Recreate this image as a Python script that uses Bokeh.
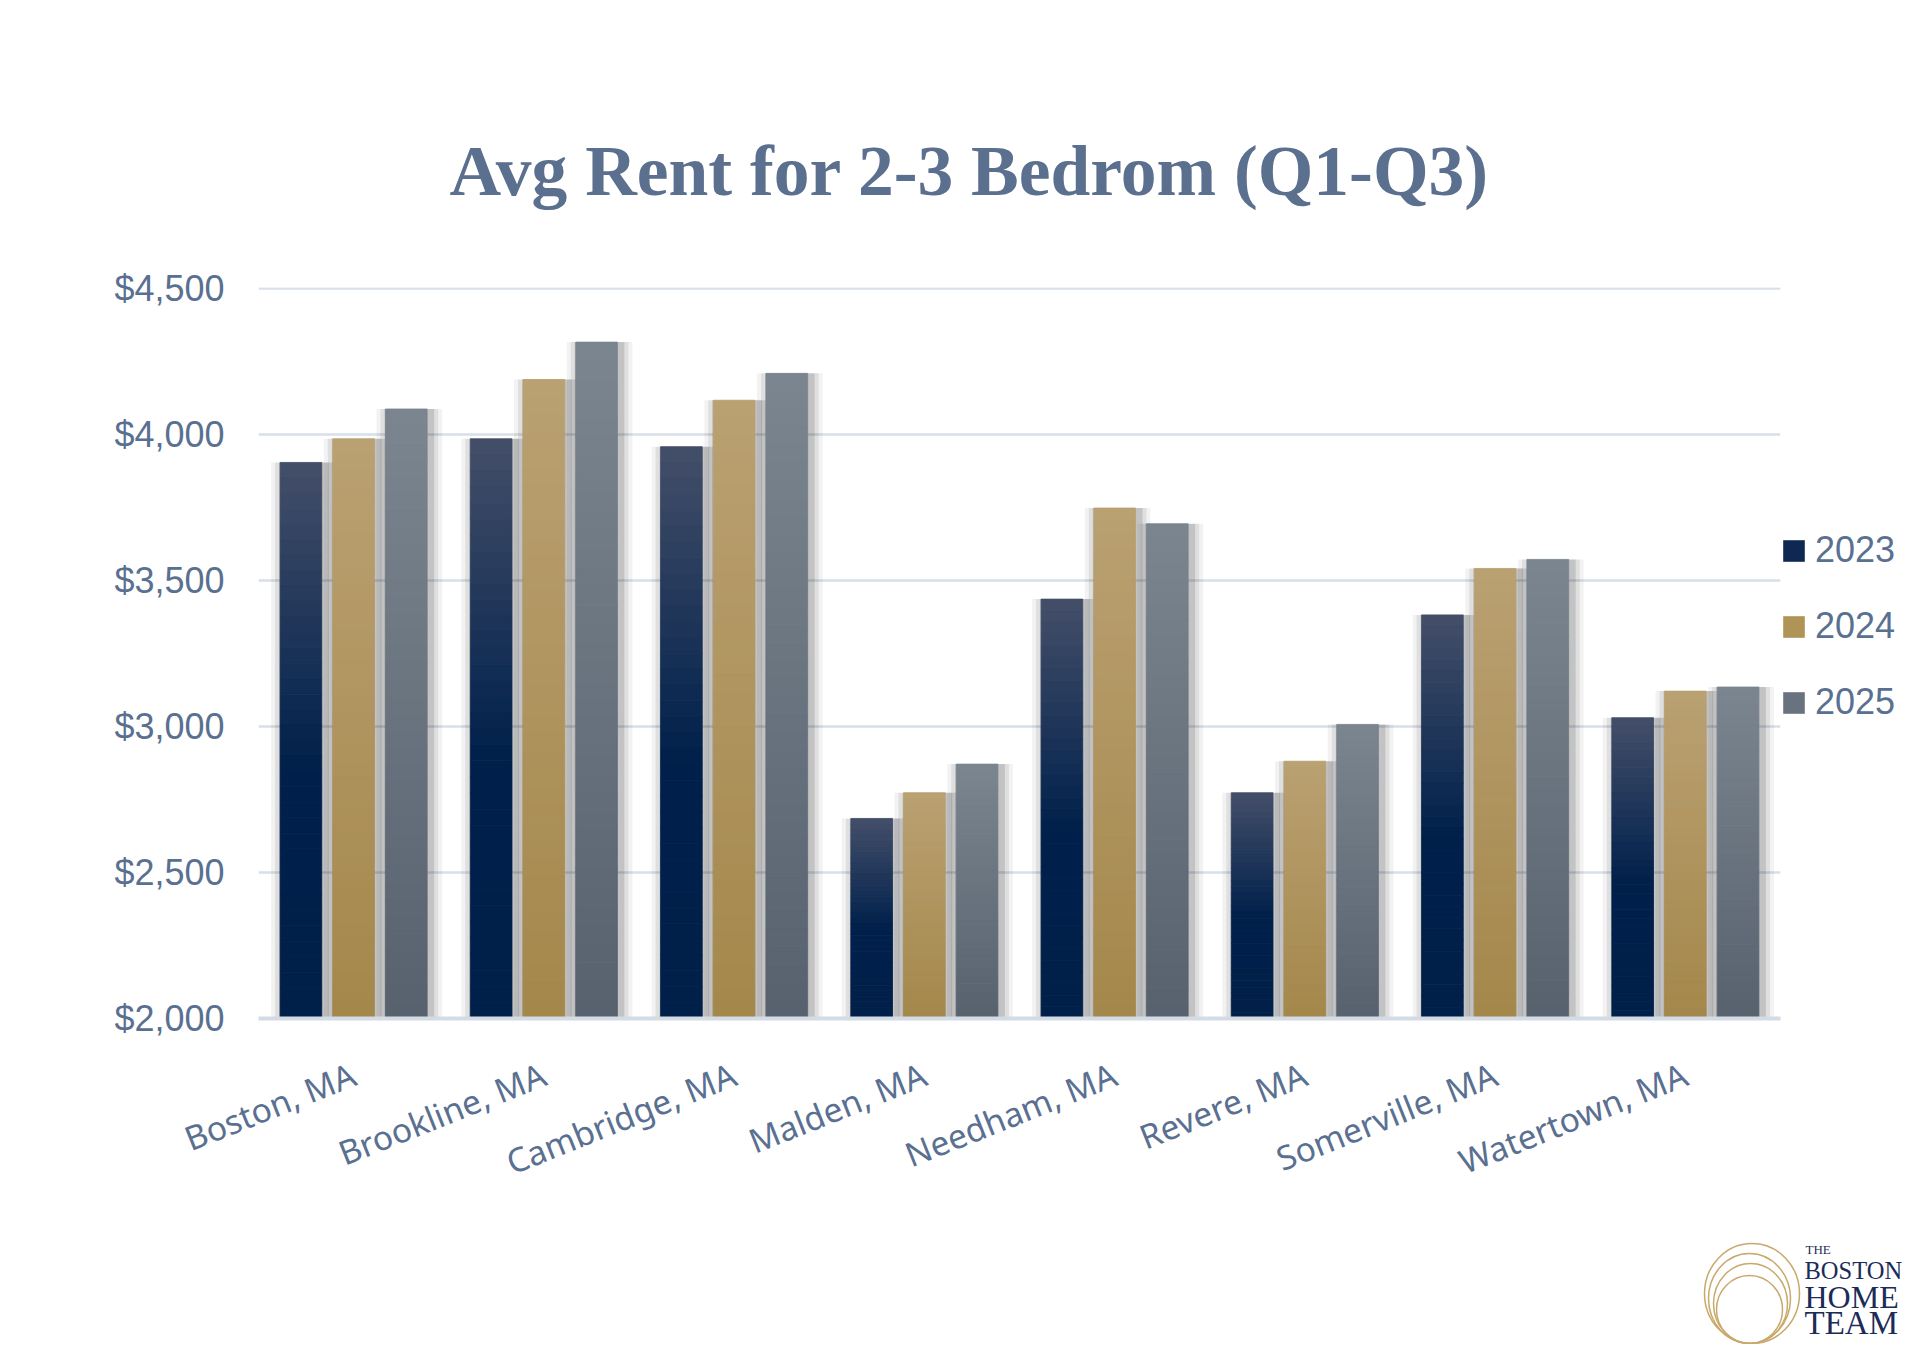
from bokeh.plotting import figure
from bokeh.models import (ColumnDataSource, FactorRange, Range1d, NumeralTickFormatter,
                          Legend, LegendItem, FixedTicker, Spacer)
from bokeh.layouts import column, row
from bokeh.core.properties import value
from bokeh.transform import dodge
from bokeh.embed import file_html
from bokeh.resources import INLINE

# ---------------- data ----------------
cities = ["Boston, MA", "Brookline, MA", "Cambridge, MA", "Malden, MA",
          "Needham, MA", "Revere, MA", "Somerville, MA", "Watertown, MA"]
years = ["2023", "2024", "2025"]
rent_2023 = [3904, 3985, 3958, 2685, 3436, 2773, 3382, 3030]
rent_2024 = [3985, 4188, 4117, 2773, 3748, 2881, 3541, 3121]
rent_2025 = [4087, 4316, 4209, 2871, 3694, 3007, 3572, 3135]
y_ticks = [2000, 2500, 3000, 3500, 4000, 4500]
title_text = "Avg Rent for 2-3 Bedrom (Q1-Q3)"
logo_words = ["THE", "BOSTON", "HOME", "TEAM"]

# ---------------- style ----------------
BASE = 2000
TXT = "#5a7091"
GRID = "#d9dfe8"
AXIS = "#d3dbe5"
W, H = 1904, 1220
FL, FR, FT, FB = 258, 1780, 287, 1018        # frame edges on the canvas
PX = 1.0 / ((FR - FL) / len(cities))          # one pixel in category units
BAR_W = 0.219
OFFS = [-0.277, 0.0, 0.277]
STOPS = [
    [(0.0, "#444f69"), (0.55, "#00204b"), (1.0, "#00204a")],
    [(0.0, "#baa172"), (1.0, "#a4874a")],
    [(0.0, "#7b8590"), (1.0, "#57626e")],
]
LEG_COLORS = ["#0e2851", "#af9357", "#69737f"]
NSEG = 36


def hex2rgb(h):
    h = h.lstrip("#")
    return tuple(int(h[i:i + 2], 16) for i in (0, 2, 4))


def color_at(t, stops):
    for (t0, c0), (t1, c1) in zip(stops[:-1], stops[1:]):
        if t <= t1:
            f = 0 if t1 == t0 else (t - t0) / (t1 - t0)
            a, b = hex2rgb(c0), hex2rgb(c1)
            return "#%02x%02x%02x" % tuple(round(a[i] + (b[i] - a[i]) * f) for i in range(3))
    return stops[-1][1]


p = figure(frame_width=FR - FL, frame_height=FB - FT, output_backend="svg",
           toolbar_location=None,
           x_range=FactorRange(*cities, range_padding=0),
           y_range=Range1d(BASE, 4503),
           min_border_left=FL, min_border_right=W - FR,
           min_border_top=FT, min_border_bottom=H - FB,
           background_fill_color="white", border_fill_color="white")
p.outline_line_color = None

# title
p.title.text = title_text
p.title.text_font = "Liberation Serif"
p.title.text_font_style = "bold"
p.title.text_font_size = "71.5px"
p.title.text_color = "#5b6f8e"
p.title.align = "left"
p.title.offset = 191
p.title.standoff = 155

# grid / axes
p.xgrid.grid_line_color = None
p.ygrid.grid_line_color = GRID
p.ygrid.grid_line_width = 2.5
p.yaxis.ticker = FixedTicker(ticks=y_ticks)
p.yaxis.formatter = NumeralTickFormatter(format="$0,0")
p.yaxis.axis_line_color = None
p.yaxis.major_tick_line_color = None
p.yaxis.minor_tick_line_color = None
p.yaxis.major_tick_out = 0
p.yaxis.major_tick_in = 0
p.yaxis.major_label_standoff = 34
p.yaxis.major_label_text_font = "Liberation Sans"
p.yaxis.major_label_text_font_size = "36px"
p.yaxis.major_label_text_color = TXT

p.xaxis.axis_line_color = AXIS
p.xaxis.axis_line_width = 4
p.xaxis.major_tick_line_color = None
p.xaxis.minor_tick_line_color = None
p.xaxis.major_tick_out = 0
p.xaxis.major_tick_in = 0
p.xaxis.major_label_orientation = 0.38
p.xaxis.major_label_standoff = 54
p.xaxis.major_label_text_font = "Noto Sans"
p.xaxis.major_label_text_font_size = "33.5px"
p.xaxis.major_label_text_color = TXT

series = [rent_2023, rent_2024, rent_2025]

# soft shadows
for vals, off in zip(series, OFFS):
    src = ColumnDataSource(dict(x=cities, top=vals))
    for k, a in [(12, 0.05), (8, 0.08), (4, 0.12)]:
        p.vbar(x=dodge("x", off + 3 * PX, range=p.x_range), top="top", bottom=BASE,
               width=BAR_W + 2 * k * PX, source=src,
               fill_color="black", fill_alpha=a, line_color=None)

# gradient bars
for vals, off, stops in zip(series, OFFS, STOPS):
    xs, tops, bots, cols = [], [], [], []
    for c, v in zip(cities, vals):
        h = v - BASE
        for i in range(NSEG):
            t0, t1 = i / NSEG, (i + 1) / NSEG
            xs.append(c)
            tops.append(v - h * t0)
            bots.append(v - h * t1)
            cols.append(color_at((t0 + t1) / 2, stops))
    src = ColumnDataSource(dict(x=xs, top=tops, bottom=bots, color=cols))
    p.vbar(x=dodge("x", off, range=p.x_range), top="top", bottom="bottom",
           width=BAR_W, source=src, fill_color="color", line_color="color", line_width=0.8)

# legend swatch renderers (zero-height bars, only used for the legend)
leg_r = []
for c in LEG_COLORS:
    leg_r.append(p.vbar(x=[cities[0]], top=[BASE], bottom=[BASE], width=0.01,
                        fill_color=c, line_color=None))
legend = Legend(items=[LegendItem(label=y, renderers=[r]) for y, r in zip(years, leg_r)],
                location="top_left", orientation="vertical",
                title=" ", title_text_font_size="36px", title_standoff=200,
                glyph_width=27, glyph_height=27, label_height=42,
                label_text_font="Liberation Sans", label_text_font_size="36px",
                label_text_color=TXT, label_text_baseline="middle", label_standoff=8,
                spacing=34, padding=0, margin=0,
                border_line_color=None, background_fill_alpha=0)
p.add_layout(legend, "right")

# ---------------- logo (small figure under the right corner) ----------------
LW, LH = 214, 124
lg = figure(frame_width=LW, frame_height=LH, title=None, output_backend="svg",
            toolbar_location=None,
            x_range=Range1d(0, LW), y_range=Range1d(LH, 0),
            min_border=0, background_fill_color="white", border_fill_color="white")
lg.outline_line_color = None
lg.axis.visible = False
lg.grid.grid_line_color = None
lg.ellipse(x=[61.5, 59, 60, 59], y=[73, 78, 83, 89], width=[95, 82, 74, 66],
           height=[100, 90, 80, 68], fill_alpha=0, line_color="#c9a96b", line_width=1.5)
lg.text(x=[115, 114, 114, 114], y=[29, 50, 76, 102], text=logo_words,
        text_font=value("Liberation Serif"),
        text_font_size=["13px", "24.5px", "32px", "33px"],
        text_font_style="normal", text_color="#1b2c57",
        text_baseline="alphabetic", text_align="left")

layout = column(p, row(Spacer(width=W - LW, height=LH), lg))
open("out.html", "w").write(file_html(layout, INLINE))
